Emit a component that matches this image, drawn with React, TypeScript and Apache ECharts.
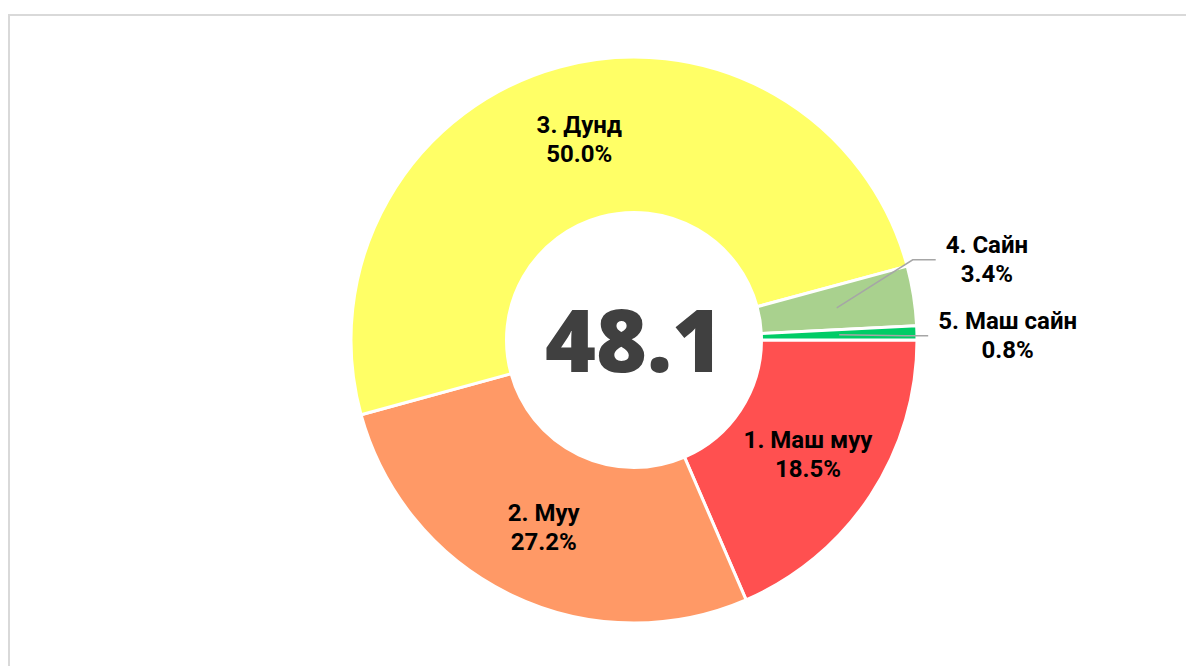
import React, { useEffect, useRef } from "react";
import * as echarts from "echarts";

const categories = ["1. Маш муу", "2. Муу", "3. Дунд", "4. Сайн", "5. Маш сайн"];
const shares = [18.5, 27.2, 50.0, 3.4, 0.8];
const sliceColors = ["#FF5050", "#FF9966", "#FFFF66", "#A9D18E", "#00CC66"];
const outsideLabelIdx = [3, 4];
const centerValue = "48.1";

// label callout offsets (style): label anchor relative to leader line start
const calloutOffsets: Record<number, [number, number]> = { 3: [109, -48], 4: [99, 1] };
const calloutTail = 23;
const calloutGap = 10;

const CX = 624;
const CY = 324;
const R0 = 127.5;
const R1 = 283;

export default function App() {
  const ref = useRef<HTMLDivElement>(null);
  useEffect(() => {
    if (!ref.current) return;
    const chart = echarts.init(ref.current, null, { renderer: "svg" });
    const font = { fontFamily: "Roboto", fontWeight: "bold" as const, fontSize: 24, color: "#000" };
    const data = categories.map((name, i) => ({
      name,
      value: shares[i],
      itemStyle: { color: sliceColors[i] },
      label: { show: !outsideLabelIdx.includes(i) },
    }));
    const overlayData = categories.map((name, i) => ({
      name,
      value: shares[i],
      label: { show: outsideLabelIdx.includes(i) },
      labelLine: { show: outsideLabelIdx.includes(i) },
    }));
    chart.setOption({
      animation: false,
      graphic: [
        {
          type: "text",
          x: CX,
          y: CY - 2,
          z: 100,
          style: {
            text: centerValue,
            fontFamily: "Open Sans",
            fontWeight: 800,
            fontSize: 87,
            fill: "#404040",
            textAlign: "center",
            textVerticalAlign: "middle",
          },
        },
      ],
      series: [
        {
          type: "pie",
          z: 2,
          center: [CX, CY],
          radius: [R0, R1],
          startAngle: 0,
          clockwise: true,
          silent: true,
          avoidLabelOverlap: false,
          itemStyle: { borderColor: "#fff", borderWidth: 3 },
          label: {
            position: "inside",
            ...font,
            lineHeight: 29,
            formatter: (p: any) => `${p.name}\n${Number(p.value).toFixed(1)}%`,
          },
          labelLine: { show: false },
          data,
        },
        {
          type: "pie",
          z: 5,
          center: [CX, CY],
          radius: [0, (R0 + R1) / 2],
          startAngle: 0,
          clockwise: true,
          silent: true,
          avoidLabelOverlap: false,
          itemStyle: { color: "rgba(0,0,0,0)", borderWidth: 0 },
          label: {
            position: "outside",
            ...font,
            lineHeight: 29,
            formatter: (p: any) => `{b|${p.name}}\n{b|${Number(p.value).toFixed(1)}%}`,
            rich: { b: { ...font, lineHeight: 29, align: "center" } },
          },
          labelLine: { length: 20, length2: 20, lineStyle: { color: "#A6A6A6", width: 1.5 } },
          labelLayout: (p: any) => {
            const off = calloutOffsets[p.dataIndex];
            const pts = p.labelLinePoints;
            if (!off || !pts || !pts[0]) return {};
            const s = pts[0];
            const lx = s[0] + off[0];
            const ly = s[1] + off[1];
            return {
              x: lx,
              y: ly,
              align: "left",
              verticalAlign: "middle",
              labelLinePoints: [s, [lx - calloutGap - calloutTail, ly], [lx - calloutGap, ly]],
            };
          },
          data: overlayData,
        },
      ],
    });
    return () => chart.dispose();
  }, []);
  return (
    <div style={{ position: "fixed", left: 0, top: 0, width: 1186, height: 666, overflow: "hidden", background: "#fff" }}>
      <div
        style={{
          position: "absolute",
          left: 8,
          top: 14,
          width: 1200,
          height: 700,
          border: "2px solid #d9d9d9",
          boxSizing: "border-box",
        }}
      >
        <div ref={ref} style={{ position: "absolute", left: 0, top: 0, width: 1196, height: 696 }} />
      </div>
    </div>
  );
}
